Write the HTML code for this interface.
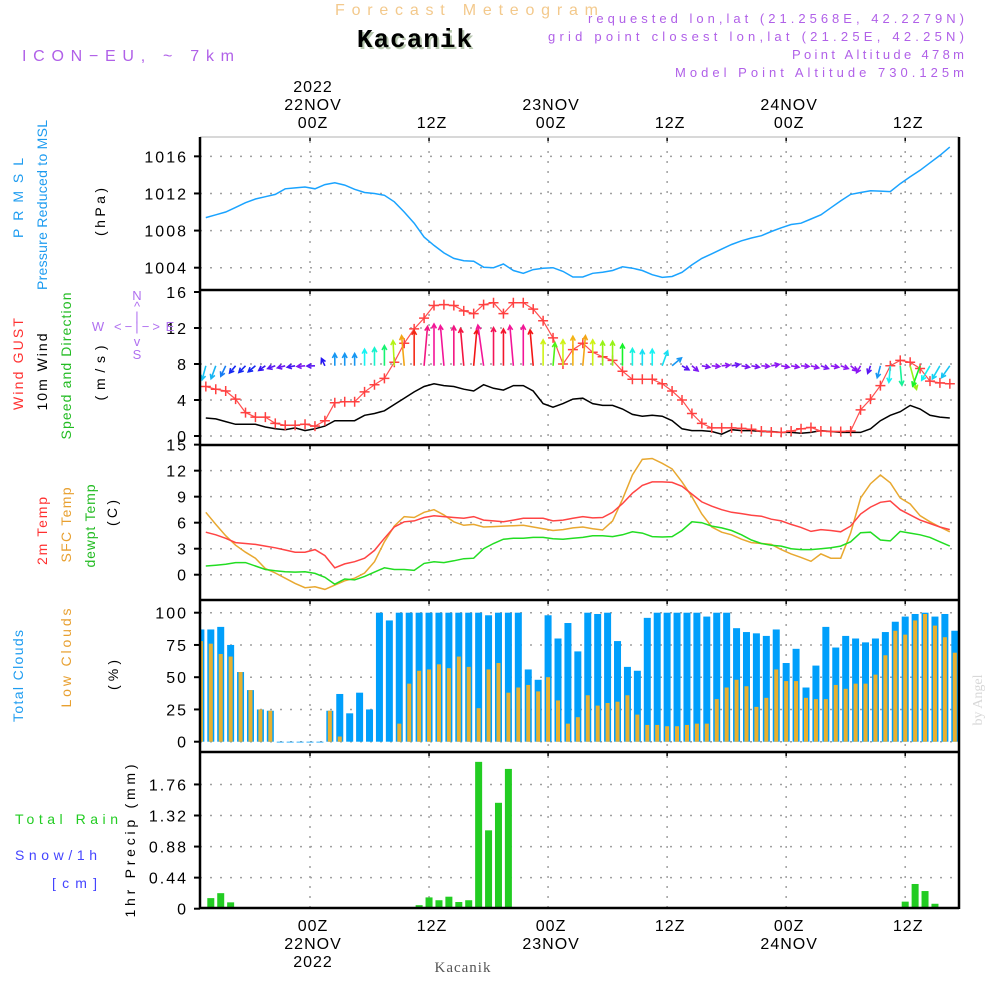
<!DOCTYPE html>
<html><head><meta charset="utf-8"><style>
html,body{margin:0;padding:0;background:#fff;}
svg{display:block;font-family:"Liberation Sans",sans-serif;}
</style></head><body>
<svg id="chart" xmlns="http://www.w3.org/2000/svg" width="1000" height="1000" viewBox="0 0 1000 1000">
<rect x="0" y="0" width="1000" height="1000" fill="#fff"/>
<text x="335" y="15" font-size="16" textLength="263" lengthAdjust="spacing" fill="#f3c98c">Forecast Meteogram</text>
<text x="417" y="49" text-anchor="middle" font-family="Liberation Mono, monospace" font-weight="bold" font-size="26" letter-spacing="1" fill="#b8c8b0">Kacanik</text>
<text x="415" y="47" text-anchor="middle" font-family="Liberation Mono, monospace" font-weight="bold" font-size="26" letter-spacing="1" fill="#000">Kacanik</text>
<text x="22" y="61" font-size="16" textLength="212" lengthAdjust="spacing" fill="#b060e8">ICON−EU, ~ 7km</text>
<g font-size="13" fill="#b060e8">
<text x="588" y="23" textLength="376" lengthAdjust="spacing">requested lon,lat (21.2568E, 42.2279N)</text>
<text x="548" y="41" textLength="416" lengthAdjust="spacing">grid point closest lon,lat (21.25E, 42.25N)</text>
<text x="792" y="59" textLength="172" lengthAdjust="spacing">Point Altitude 478m</text>
<text x="675" y="77" textLength="289" lengthAdjust="spacing">Model Point Altitude 730.125m</text>
</g>
<g id="axes"></g>
<g id="marks"></g>
<!-- y-axis titles -->
<g font-size="14" text-anchor="middle" lengthAdjust="spacing">
<text transform="translate(23,198) rotate(-90)" textLength="80" lengthAdjust="spacing" fill="#1e9cf0">PRMSL</text>
<text transform="translate(47,205) rotate(-90)" textLength="170" lengthAdjust="spacing" fill="#1e9cf0">Pressure Reduced to MSL</text>
<text transform="translate(105,212) rotate(-90)" textLength="48" lengthAdjust="spacing" fill="#000">(hPa)</text>
<text transform="translate(23,364) rotate(-90)" textLength="92" lengthAdjust="spacing" fill="#ff3030">Wind GUST</text>
<text transform="translate(47,372) rotate(-90)" textLength="77" lengthAdjust="spacing" fill="#000">10m Wind</text>
<text transform="translate(71,366) rotate(-90)" textLength="147" lengthAdjust="spacing" fill="#22bb22">Speed and Direction</text>
<text transform="translate(105,373) rotate(-90)" textLength="55" lengthAdjust="spacing" fill="#000">(m/s)</text>
<text transform="translate(47,531) rotate(-90)" textLength="68" lengthAdjust="spacing" fill="#ff3030">2m Temp</text>
<text transform="translate(71,525) rotate(-90)" textLength="75" lengthAdjust="spacing" fill="#e8a030">SFC Temp</text>
<text transform="translate(95,526) rotate(-90)" textLength="83" lengthAdjust="spacing" fill="#22bb22">dewpt Temp</text>
<text transform="translate(117,513) rotate(-90)" textLength="26" lengthAdjust="spacing" fill="#000">(C)</text>
<text transform="translate(23,676) rotate(-90)" textLength="92" lengthAdjust="spacing" fill="#1e9cf0">Total Clouds</text>
<text transform="translate(71,658) rotate(-90)" textLength="99" lengthAdjust="spacing" fill="#e8a030">Low Clouds</text>
<text transform="translate(118,675) rotate(-90)" textLength="30" lengthAdjust="spacing" fill="#000">(%)</text>
<text transform="translate(135,841) rotate(-90)" textLength="153" lengthAdjust="spacing" fill="#000">1hr Precip (mm)</text>
</g>
<g font-size="14">
<text x="15" y="824" textLength="103" lengthAdjust="spacing" fill="#22cc22">Total  Rain</text>
<text x="15" y="860" textLength="82" lengthAdjust="spacing" fill="#4444ff">Snow/1h</text>
<text x="52" y="888" textLength="45" lengthAdjust="spacing" fill="#4444ff">[cm]</text>
</g>
<g font-size="13" fill="#b070f0" text-anchor="middle">
<text x="137" y="300">N</text><text x="137" y="311">^</text><text x="137" y="321">|</text>
<text x="137" y="331" textLength="46" lengthAdjust="spacing">&lt;−|−&gt;</text><text x="137" y="346">v</text><text x="137" y="359">S</text>
<text x="98" y="331">W</text><text x="170" y="331">E</text>
</g>
<text transform="translate(982,700) rotate(-90)" text-anchor="middle" font-family="Liberation Serif, serif" font-size="14" fill="#d8d8d8">by Angel</text>
<text x="463" y="972" text-anchor="middle" font-family="Liberation Serif, serif" font-size="15" letter-spacing="1" fill="#555">Kacanik</text>
</svg>
<script>
const barHours = [-11,-10,-9,-8,-7,-6,-5,-4,-3,-2,-1,0,1,2,3,4,5,6,7,8,9,10,11,12,13,14,15,16,17,18,19,20,21,22,23,24,25,26,27,28,29,30,31,32,33,34,35,36,37,38,39,40,41,42,43,44,45,46,47,48,49,50,51,52,53,54,55,56,57,58,59,60,61,62,63,64,65];
const lineHours = [-10.5,-9.5,-8.5,-7.5,-6.5,-5.5,-4.5,-3.5,-2.5,-1.5,-0.5,0.5,1.5,2.5,3.5,4.5,5.5,6.5,7.5,8.5,9.5,10.5,11.5,12.5,13.5,14.5,15.5,16.5,17.5,18.5,19.5,20.5,21.5,22.5,23.5,24.5,25.5,26.5,27.5,28.5,29.5,30.5,31.5,32.5,33.5,34.5,35.5,36.5,37.5,38.5,39.5,40.5,41.5,42.5,43.5,44.5,45.5,46.5,47.5,48.5,49.5,50.5,51.5,52.5,53.5,54.5,55.5,56.5,57.5,58.5,59.5,60.5,61.5,62.5,63.5,64.5];
const pressure = [1009.4,1009.7,1010.0,1010.5,1011.0,1011.4,1011.65,1011.9,1012.5,1012.6,1012.7,1012.5,1012.95,1013.15,1012.9,1012.45,1012.1,1012.0,1011.8,1011.1,1010.0,1008.8,1007.3,1006.4,1005.6,1005.0,1004.75,1004.7,1004.05,1004.0,1004.4,1003.7,1003.4,1003.8,1003.95,1004.0,1003.6,1003.0,1003.0,
1003.4,1003.5,1003.7,1004.1,1003.95,1003.7,1003.25,1002.95,1003.05,1003.5,1004.3,1005.0,1005.5,1006.0,1006.5,1006.9,1007.2,1007.45,1007.9,1008.3,1008.65,1008.8,1009.25,1009.7,1010.45,1011.2,1011.9,1012.1,1012.3,1012.25,1012.2,1013.05,1013.8,1014.5,1015.3,1016.1,1017.0];
const windGust = [5.5,5.2,5.0,4.1,2.6,2.1,2.1,1.4,1.2,1.2,1.3,1.1,1.7,3.7,3.8,3.8,4.9,5.7,6.4,8.2,10.3,11.9,13.1,14.5,14.6,14.5,13.9,13.6,14.6,14.8,13.6,14.8,14.8,14.1,12.8,10.9,8.0,9.6,10.3,
9.3,8.8,8.4,7.2,6.3,6.3,6.3,5.8,5.0,4.0,2.5,1.4,0.9,0.9,0.9,0.85,0.75,0.55,0.45,0.4,0.55,0.8,0.95,0.55,0.5,0.5,0.55,2.9,4.1,5.6,7.8,8.4,8.2,7.5,6.1,5.9,5.8];
const windSpeed = [2.0,1.9,1.6,1.3,1.3,1.3,1.0,0.8,0.7,0.9,0.6,0.8,1.1,1.7,1.7,1.7,2.3,2.5,2.8,3.5,4.2,4.9,5.5,5.8,5.6,5.5,5.2,5.0,5.7,5.3,5.1,5.6,5.6,5.0,3.6,3.2,3.6,4.1,4.2,
3.6,3.4,3.4,3.0,2.4,2.2,2.3,2.2,1.7,0.8,0.6,0.6,0.5,0.2,0.7,0.6,0.6,0.5,0.5,0.4,0.4,0.3,0.4,0.6,0.5,0.4,0.4,0.4,0.8,1.7,2.3,2.7,3.4,3.0,2.3,2.1,2.0];
const windDir = [195,200,205,220,225,230,235,250,255,260,265,268,-25,0,0,0,0,0,0,-3,-5,0,5,0,-5,0,-5,5,-8,0,0,-5,0,-5,0,5,0,0,5,
0,0,0,0,0,0,0,20,50,120,130,100,95,85,80,100,100,95,80,100,100,95,105,110,100,110,130,210,200,195,185,175,165,200,210,210,215];
const temp2m = [4.9,4.6,4.2,3.7,3.6,3.5,3.3,3.1,2.85,2.6,2.6,2.9,2.2,0.8,1.25,1.5,1.9,2.8,4.2,5.5,6.1,6.2,6.6,6.8,6.7,6.6,6.5,6.7,6.3,6.2,6.1,6.3,6.5,6.5,6.5,6.2,6.3,6.5,6.7,
6.55,6.6,7.2,8.2,9.4,10.3,10.7,10.7,10.65,10.2,9.3,8.4,7.9,7.5,7.2,7.05,6.85,6.75,6.4,6.2,5.8,5.45,5.0,5.2,5.1,4.95,5.6,7.0,7.8,8.35,8.5,7.5,6.9,6.3,5.9,5.5,5.2];
const tempSfc = [7.2,5.8,4.5,3.4,2.6,1.9,0.7,0.2,-0.4,-1.0,-1.5,-1.4,-1.7,-1.2,-0.7,-0.4,0.2,1.5,3.8,5.6,6.7,6.6,7.2,7.5,6.9,6.1,5.7,5.8,5.5,5.55,5.6,5.65,5.7,5.5,5.3,5.1,5.2,5.4,5.5,
5.3,5.15,6.2,8.7,11.5,13.3,13.4,12.85,12.2,10.7,9.0,7.0,5.5,4.9,4.6,4.1,3.7,3.6,3.5,2.9,2.4,2.0,1.55,2.4,1.9,1.9,4.8,8.85,10.5,11.5,10.6,8.85,8.15,6.8,6.1,5.5,4.95];
const dewpt = [1.0,1.1,1.2,1.4,1.4,1.0,0.6,0.45,0.35,0.3,0.35,0.15,-0.3,-1.1,-0.5,-0.6,-0.2,0.3,0.8,0.6,0.6,0.5,1.3,1.5,1.4,1.6,1.85,1.9,3.0,3.6,4.1,4.2,4.2,4.3,4.3,4.15,4.1,4.2,4.3,
4.5,4.5,4.4,4.6,4.95,4.8,4.4,4.35,4.4,5.1,6.1,6.0,5.6,5.4,5.1,4.6,4.0,3.6,3.4,3.3,3.0,2.9,2.9,3.0,3.1,3.3,3.8,4.85,4.9,4.0,3.9,5.0,4.8,4.6,4.3,3.8,3.3];
const totalClouds = [87,87,89,75,54,40,25,24,0,0,0,0,0,24,37,22,38,25,100,94,100,100,100,100,100,100,100,100,100,98,100,100,100,56,48,98,80,92,70,
100,99,100,78,58,55,96,100,100,100,100,100,97,100,100,88,85,84,82,87,61,72,42,59,89,73,82,80,77,80,85,93,97,99,100,97,99,86];
const lowClouds = [78,76,68,66,54,40,25,24,0,0,0,0,0,24,4,0,0,0,0,0,14,45,55,56,60,57,66,58,26,56,61,38,42,44,39,50,32,14,19,
36,28,30,31,36,21,13,13,12,12,13,14,14,33,42,48,43,27,34,56,47,47,34,33,33,44,41,45,45,52,67,86,83,94,99,90,81,69];
const precip = [0,0.15,0.22,0.09,0,0,0,0,0,0,0,0,0,0,0,0,0,0,0,0,0,0,0.05,0.16,0.12,0.17,0.095,0.12,2.08,1.11,1.5,1.98,0.02,0,0,0,0,0,0,0,0,0,0,0,0,0,0,0,0,0,0,0,0,0,0,0,0,0,0,0,0,0,0,0,0,0,0,0,0,0,0,0.1,0.35,0.25,0.07,0];
const pTicks = [1004,1008,1012,1016];
const wTicks = [0,4,8,12,16];
const tTicks = [0,3,6,9,12,15];
const cTicks = [0,25,50,75,100];
const rTicks = [0,0.44,0.88,1.32,1.76];
const gridHours = [0,12,24,36,48,60];
const topLabels = [["2022","22NOV","00Z"],["","","12Z"],["","23NOV","00Z"],["","","12Z"],["","24NOV","00Z"],["","","12Z"]];
const bottomLabels = [["00Z","22NOV","2022"],["12Z","",""],["00Z","23NOV",""],["12Z","",""],["00Z","24NOV",""],["12Z","",""]];

const NS = "http://www.w3.org/2000/svg";
const X0 = 200, X1 = 959;
const xH = h => 310 + h * 9.92;
const panels = {
  p: {top:137, bot:290, y: v => 267.7 - (v - 1004) * 9.28},
  w: {top:290, bot:445, y: v => 436 - v * 9},
  t: {top:445, bot:600, y: v => 574.7 - v * 8.67},
  c: {top:600, bot:752, y: v => 741.7 - v * 1.29},
  r: {top:752, bot:908, y: v => 908.7 - v * 70.6}
};
function mk(tag, attrs, parent){
  const e = document.createElementNS(NS, tag);
  for (const k in attrs) e.setAttribute(k, attrs[k]);
  parent.appendChild(e);
  return e;
}
const axes = document.getElementById('axes');
const marks = document.getElementById('marks');
const defs = mk('defs', {}, axes);
Object.keys(panels).forEach(k => {
  const P = panels[k];
  const cp = mk('clipPath', {id:'clip-'+k}, defs);
  mk('rect', {x:X0, y:P.top, width:X1-X0, height:P.bot-P.top}, cp);
});

function drawAxes(key, ticks, name, fmt){
  const P = panels[key];
  const g = mk('g', {}, axes);
  
  
  ticks.forEach(t => {
    const y = P.y(t);
    if (y > P.top + 2 && y < P.bot - 2) {
      const gl = mk('line', {x1:X0, x2:X1, y1:y, y2:y, stroke:'#a0a0a0', 'stroke-width':1.5, 'stroke-dasharray':'2,8'}, g);
      
      
    }
    mk('line', {x1:X0-6, x2:X0, y1:y, y2:y, stroke:'#000', 'stroke-width':2}, g);
    const tx = mk('text', {x:X0-12, y:y+6, 'text-anchor':'end', 'font-size':16, fill:'#000', 'letter-spacing':2}, g);
    tx.textContent = fmt ? fmt(t) : t;
    
    
  });
  gridHours.forEach(h => {
    const x = xH(h);
    const vl = mk('line', {x1:x, x2:x, y1:P.top+4, y2:P.bot, stroke:'#a0a0a0', 'stroke-width':1.5, 'stroke-dasharray':'2,8'}, g);
    
    
    mk('line', {x1:x, x2:x, y1:P.top, y2:P.top+4, stroke:'#000', 'stroke-width':1.5}, g);
  });
}
drawAxes('p', pTicks, 'pressure');
drawAxes('w', wTicks, 'wind');
drawAxes('t', tTicks, 'temperature');
drawAxes('c', cTicks, 'clouds');
drawAxes('r', rTicks, 'precip', t => t === 0 ? '0' : t.toFixed(2));

// bars
const cg = mk('g', {'clip-path':'url(#clip-c)'}, marks);


barHours.forEach((h, i) => {
  const x = xH(h), P = panels.c;
  const b = mk('rect', {x:x-3.5, y:P.y(totalClouds[i]), width:7, height:Math.max(0.8, P.y(0)-P.y(totalClouds[i])), fill:'#009ffb'}, cg);
  
  
  const l = mk('rect', {x:x-2, y:P.y(lowClouds[i]), width:4, height:Math.max(0, P.y(0)-P.y(lowClouds[i])), fill:'#e8b030'}, cg);
  
  
});
const rg = mk('g', {'clip-path':'url(#clip-r)'}, marks);


barHours.forEach((h, i) => {
  if (precip[i] <= 0) return;
  const x = xH(h), P = panels.r;
  const b = mk('rect', {x:x-3.5, y:P.y(precip[i]), width:7, height:P.y(0)-P.y(precip[i]), fill:'#22cc22'}, rg);
  
  
});

function line(key, vals, color, name, w){
  const P = panels[key];
  const d = vals.map((v, i) => (i ? 'L' : 'M') + xH(lineHours[i]).toFixed(1) + ',' + P.y(v).toFixed(1)).join('');
  const p = mk('path', {d:d, fill:'none', stroke:color, 'stroke-width':w||1.5, 'clip-path':'url(#clip-'+key+')'}, marks);
  
  
  return p;
}
line('p', pressure, '#1aa3ff', 'pressure-line');
line('t', tempSfc, '#e8a830', 'sfc-temp-line');
line('t', temp2m, '#ff4444', 'temp-2m-line');
line('t', dewpt, '#22dd22', 'dewpt-line');
line('w', windSpeed, '#000', 'wind-speed-line');
line('w', windGust, '#ff5050', 'wind-gust-line', 1.2);

// gust markers
const gm = mk('g', {stroke:'#ff4040', 'stroke-width':1.5}, marks);


windGust.forEach((v, i) => {
  const x = xH(lineHours[i]), y = panels.w.y(v);
  const m = mk('path', {d:`M${x-5},${y}H${x+5}M${x},${y-5}V${y+5}`}, gm);
  
  
});

// wind arrows
function speedColor(s){
  const stops = [[0.5,272],[1.3,235],[1.7,205],[2.2,185],[2.6,165],[3.0,125],[3.4,85],[3.8,55],[4.3,35],[5.0,0],[5.6,-35]];
  let hue = stops[0][1];
  if (s >= stops[stops.length-1][0]) hue = stops[stops.length-1][1];
  else for (let j = 0; j < stops.length-1; j++) {
    if (s >= stops[j][0] && s < stops[j+1][0]) {
      const f = (s - stops[j][0]) / (stops[j+1][0] - stops[j][0]);
      hue = stops[j][1] + f * (stops[j+1][1] - stops[j][1]);
    }
  }
  return `hsl(${(hue+360)%360},90%,52%)`;
}
const ag = mk('g', {'stroke-width':1.6, fill:'none', 'clip-path':'url(#clip-w)'}, marks);


windDir.forEach((dir, i) => {
  const s = windSpeed[i];
  const x = xH(lineHours[i]), y = panels.w.y(7.8);
  const L = Math.max(8, s * 7.2);
  const a = dir * Math.PI / 180;
  const x2 = x + L * Math.sin(a), y2 = y - L * Math.cos(a);
  const hl = 5, a1 = a + Math.PI - 0.5, a2 = a + Math.PI + 0.5;
  const d = `M${x},${y}L${x2},${y2}M${x2+hl*Math.sin(a1)},${y2-hl*Math.cos(a1)}L${x2},${y2}L${x2+hl*Math.sin(a2)},${y2-hl*Math.cos(a2)}`;
  const p = mk('path', {d:d, stroke:speedColor(s)}, ag);
  
  
});

// frames
const fg = mk('g', {}, marks);


mk('line', {x1:X0, x2:X1, y1:137, y2:137, stroke:'#ccc', 'stroke-width':1.5}, fg);
[290,445,600,752,908].forEach(y => mk('line', {x1:X0, x2:X1, y1:y, y2:y, stroke:'#000', 'stroke-width':2.5}, fg));
mk('line', {x1:X0, x2:X0, y1:137, y2:909, stroke:'#000', 'stroke-width':2.5}, fg);
mk('line', {x1:X1, x2:X1, y1:137, y2:909, stroke:'#000', 'stroke-width':2.5}, fg);

// time labels
const tg = mk('g', {'font-size':16, 'text-anchor':'middle', fill:'#000', 'letter-spacing':1}, marks);


gridHours.forEach((h, i) => {
  const x = xH(h) + 3;
  [92,110,128].forEach((y, r) => {
    if (!topLabels[i][r]) return;
    const t = mk('text', {x:x, y:y}, tg);
    t.textContent = topLabels[i][r];
    
    
  });
  [931,949,967].forEach((y, r) => {
    if (!bottomLabels[i][r]) return;
    const t = mk('text', {x:x, y:y}, tg);
    t.textContent = bottomLabels[i][r];
    
    
  });
});
</script>
</body></html>
